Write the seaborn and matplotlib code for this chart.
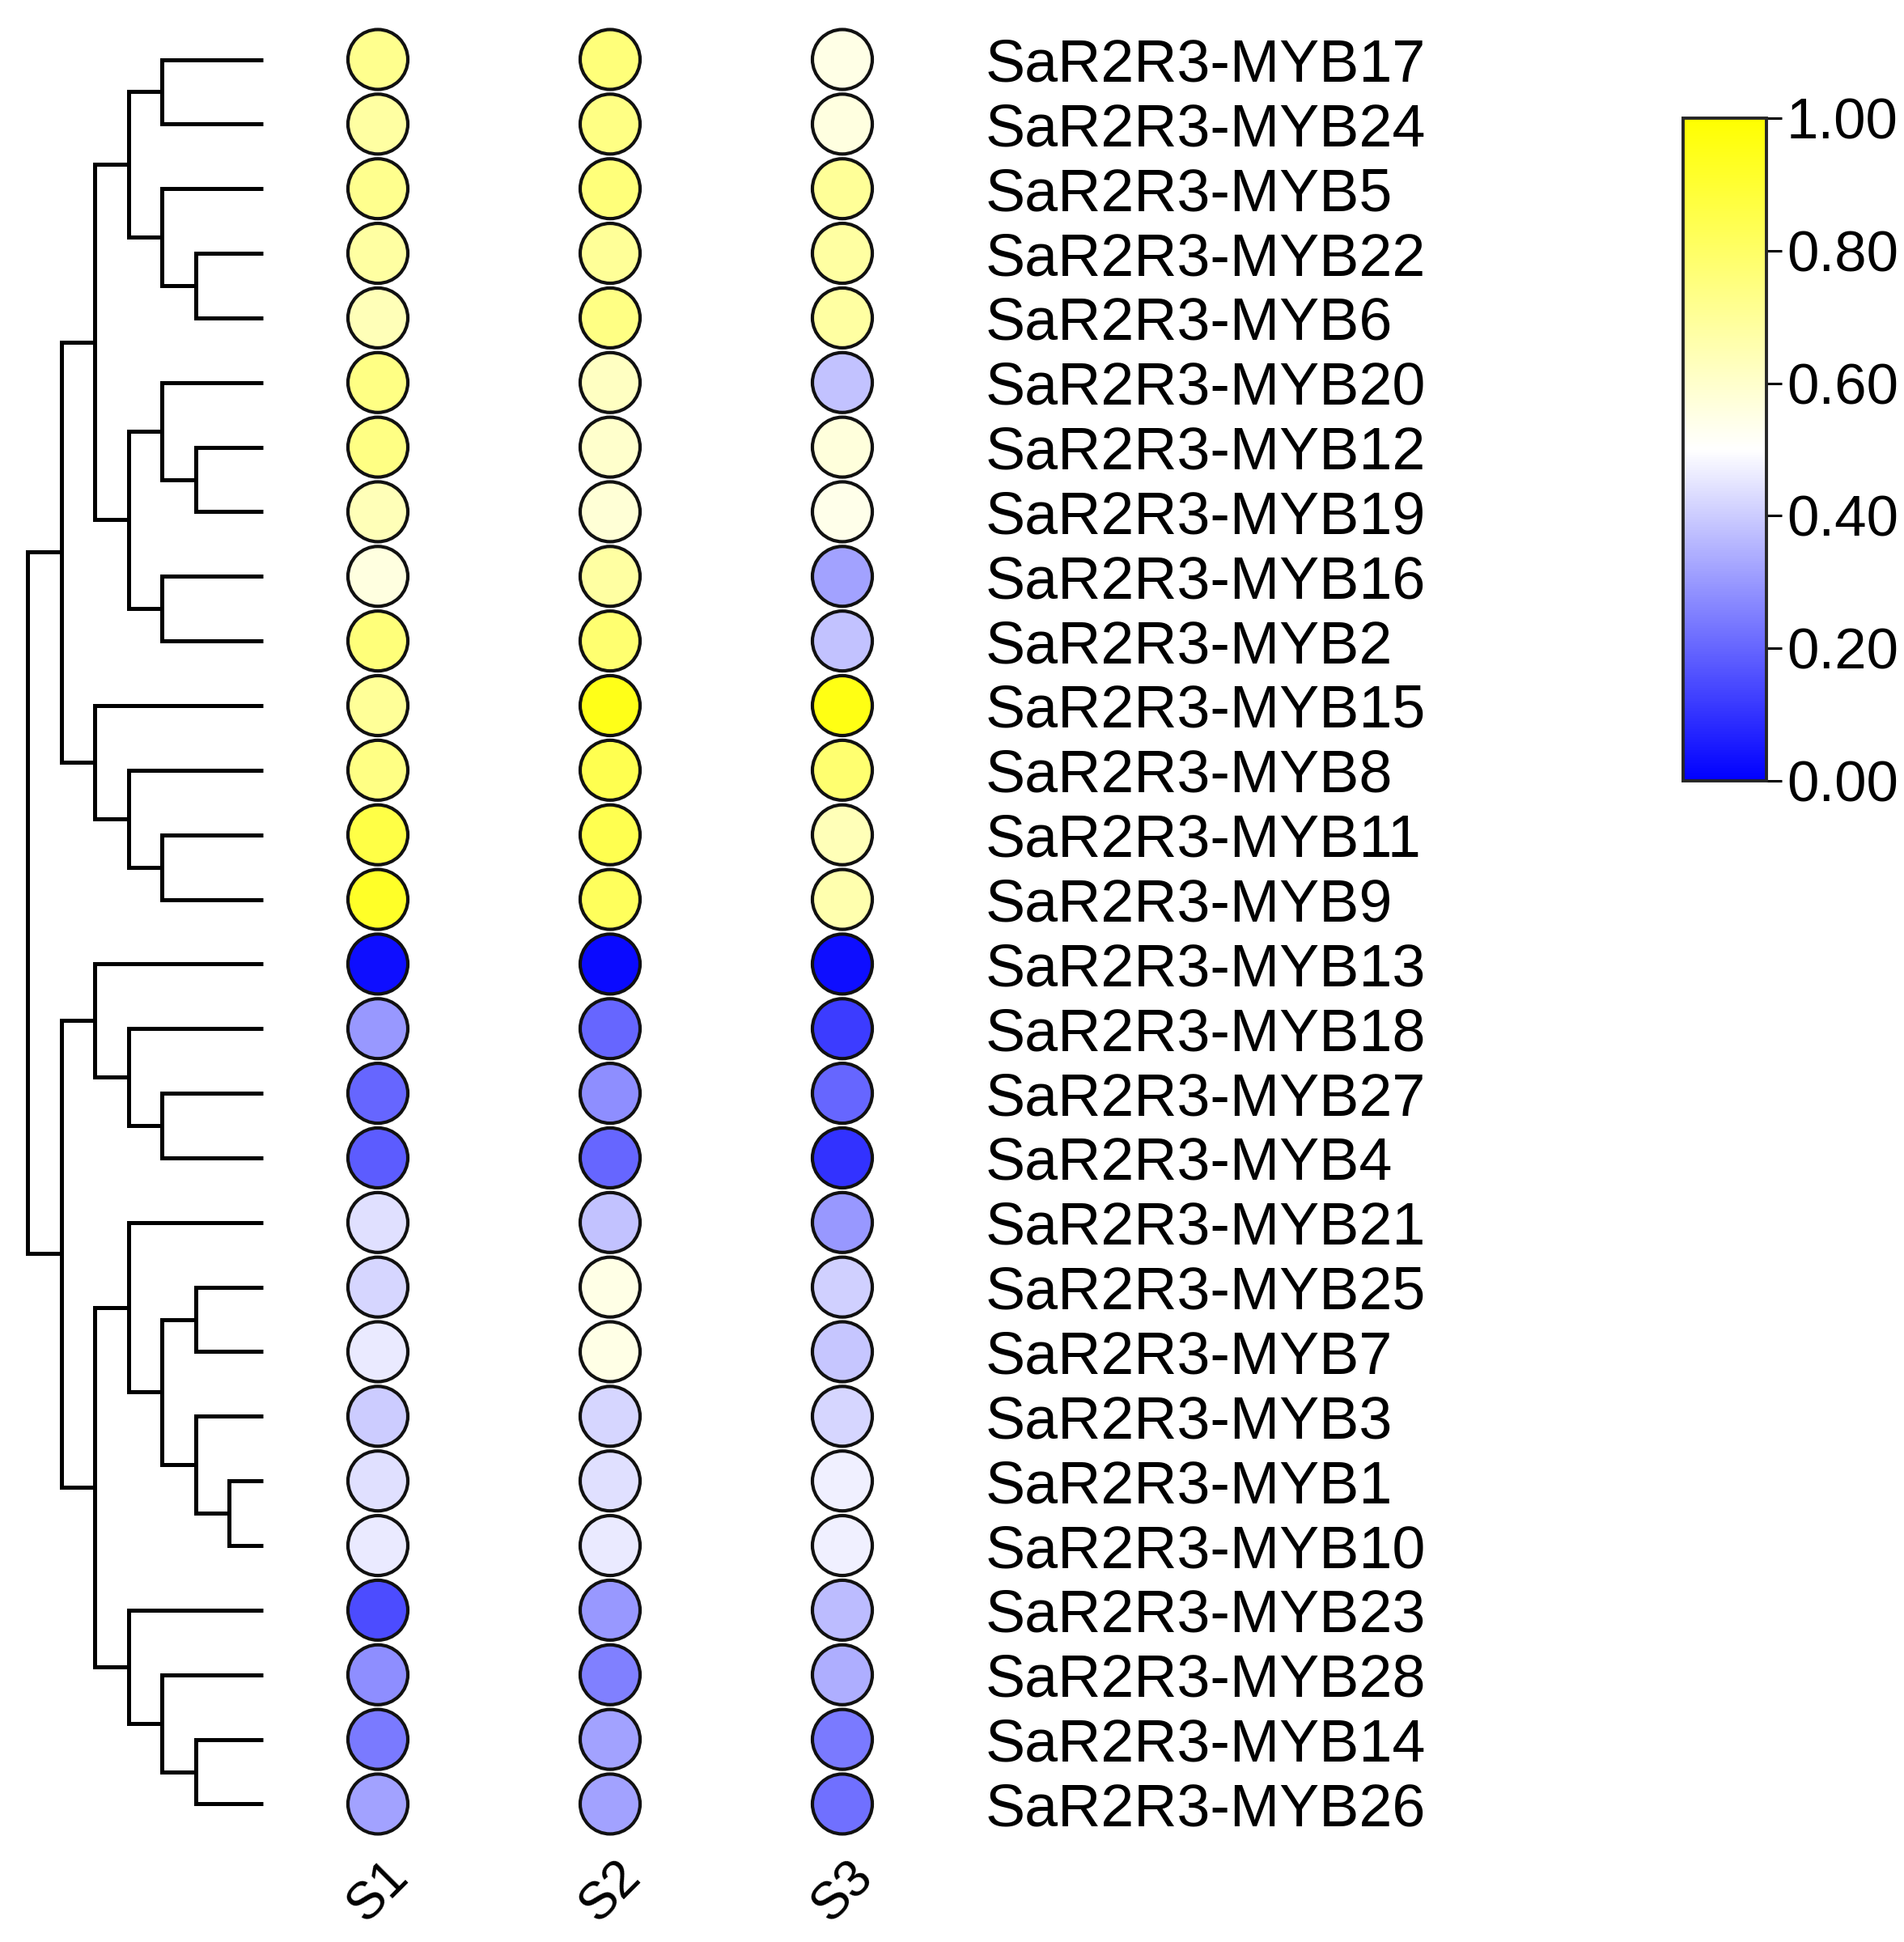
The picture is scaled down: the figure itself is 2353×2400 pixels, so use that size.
import numpy as np
import pandas as pd
import matplotlib.pyplot as plt
import matplotlib.colors as mcolors
import matplotlib.cm as cm
import seaborn as sns

#Genes in the order of the dendrogram leaves (top to bottom)
genes = ["SaR2R3-MYB17", "SaR2R3-MYB24", "SaR2R3-MYB5", "SaR2R3-MYB22", "SaR2R3-MYB6",
         "SaR2R3-MYB20", "SaR2R3-MYB12", "SaR2R3-MYB19", "SaR2R3-MYB16", "SaR2R3-MYB2",
         "SaR2R3-MYB15", "SaR2R3-MYB8", "SaR2R3-MYB11", "SaR2R3-MYB9", "SaR2R3-MYB13",
         "SaR2R3-MYB18", "SaR2R3-MYB27", "SaR2R3-MYB4", "SaR2R3-MYB21", "SaR2R3-MYB25",
         "SaR2R3-MYB7", "SaR2R3-MYB3", "SaR2R3-MYB1", "SaR2R3-MYB10", "SaR2R3-MYB23",
         "SaR2R3-MYB28", "SaR2R3-MYB14", "SaR2R3-MYB26"]
samples = ["S1", "S2", "S3"]

#Normalised expression values
s1 = [0.72, 0.68, 0.72, 0.68, 0.64, 0.74, 0.74, 0.64, 0.56, 0.76, 0.70, 0.74, 0.86, 0.92,
      0.03, 0.30, 0.20, 0.18, 0.44, 0.42, 0.46, 0.40, 0.44, 0.46, 0.15, 0.28, 0.24, 0.32]
s2 = [0.76, 0.74, 0.76, 0.70, 0.74, 0.62, 0.60, 0.58, 0.68, 0.78, 0.95, 0.84, 0.84, 0.82,
      0.02, 0.20, 0.28, 0.20, 0.38, 0.55, 0.55, 0.42, 0.44, 0.46, 0.30, 0.25, 0.32, 0.32]
s3 = [0.55, 0.56, 0.70, 0.68, 0.68, 0.38, 0.57, 0.54, 0.32, 0.38, 0.96, 0.78, 0.64, 0.66,
      0.03, 0.12, 0.20, 0.10, 0.30, 0.41, 0.39, 0.42, 0.47, 0.47, 0.37, 0.34, 0.24, 0.22]

#Tree merges like a linkage matrix: (child a, child b, height); ids >= 28 are earlier merges
merges = [(0, 1, 3), (3, 4, 2), (2, 29, 3), (28, 30, 4),
          (6, 7, 2), (5, 32, 3), (8, 9, 3), (33, 34, 4), (31, 35, 5),
          (12, 13, 3), (11, 37, 4), (10, 38, 5), (36, 39, 6),
          (16, 17, 3), (15, 41, 4), (14, 42, 5),
          (22, 23, 1), (21, 44, 2), (19, 20, 2), (46, 45, 3), (18, 47, 4),
          (26, 27, 2), (25, 49, 3), (24, 50, 4), (48, 51, 5), (43, 52, 6), (40, 53, 7)]

cbar_ticks = [0.0, 0.2, 0.4, 0.6, 0.8, 1.0]

sns.set_style("white")
plt.rcParams["font.family"] = ["Liberation Sans", "DejaVu Sans"]
plt.rcParams["text.color"] = "black"
plt.rcParams["xtick.color"] = "black"
plt.rcParams["ytick.color"] = "black"

cmap = mcolors.LinearSegmentedColormap.from_list("bwy", ["#0000ff", "#ffffff", "#ffff00"])

#Long table for seaborn
df = pd.DataFrame({"gene": genes, "S1": s1, "S2": s2, "S3": s3})
long_df = df.melt(id_vars="gene", var_name="sample", value_name="value")
long_df["row"] = long_df["gene"].map({g: i for i, g in enumerate(genes)})
long_df["col"] = long_df["sample"].map({s: i for i, s in enumerate(samples)})

W, H = 2353, 2400
fig = plt.figure(figsize=(W / 100, H / 100), dpi=100)

row_h = 79.85
top_px = 73.5 - row_h / 2
col_w = 287
left_px = 467 - col_w / 2
ax = fig.add_axes([left_px / W, 1 - (top_px + 28 * row_h) / H, 3 * col_w / W, 28 * row_h / H])

sns.scatterplot(data=long_df, x="col", y="row", hue="value", palette=cmap, hue_norm=(0, 1),
                s=2840, edgecolor="#111111", linewidth=3, legend=False, ax=ax, zorder=3)
ax.set_xlim(-0.5, 2.5)
ax.set_ylim(27.5, -0.5)
ax.set_xticks(range(3))
ax.set_xticklabels(samples, rotation=45, ha="center", fontsize=46)
ax.set_yticks(range(len(genes)))
ax.set_yticklabels(genes, fontsize=53)
ax.yaxis.tick_right()
ax.tick_params(axis="y", length=0, pad=24)
ax.tick_params(axis="x", length=0, pad=14)
ax.set_xlabel("")
ax.set_ylabel("")
sns.despine(ax=ax, left=True, bottom=True, right=True, top=True)

#Dendrogram
dax = fig.add_axes([34 / W, 1 - (top_px + 28 * row_h) / H, (325 - 34) / W, 28 * row_h / H])
pos = {i: (0.0, float(i)) for i in range(len(genes))}
for k, (a, b, h) in enumerate(merges):
    xa, ya = pos[a]
    xb, yb = pos[b]
    dax.plot([xa, h, h, xb], [ya, ya, yb, yb], color="black", lw=3.6, solid_capstyle="butt",
             solid_joinstyle="miter", clip_on=False)
    pos[len(genes) + k] = (h, (ya + yb) / 2)
dax.set_xlim(7, 0)
dax.set_ylim(27.5, -0.5)
dax.axis("off")

#Colorbar
cax = fig.add_axes([2080 / W, 1 - 965 / H, 103 / W, 819 / H])
cb = fig.colorbar(cm.ScalarMappable(norm=mcolors.Normalize(0, 1), cmap=cmap), cax=cax, ticks=cbar_ticks)
cb.ax.set_yticklabels([f"{t:.2f}" for t in cbar_ticks], fontsize=51)
cb.ax.tick_params(length=14, width=2.2, pad=4, colors="black")
cb.outline.set_linewidth(2.8)

fig.savefig("out.png", dpi=100)
